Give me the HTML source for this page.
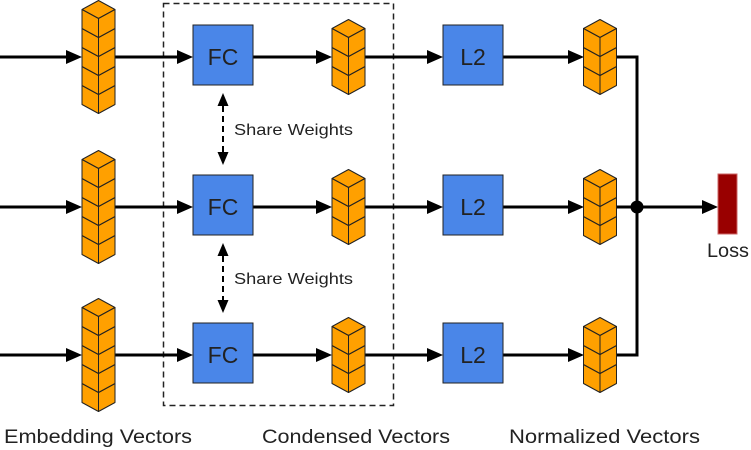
<!DOCTYPE html>
<html><head><meta charset="utf-8"><style>
html,body{margin:0;padding:0;background:#fff;width:751px;height:450px;overflow:hidden}
text{font-family:"Liberation Sans","DejaVu Sans",sans-serif;fill:#222}
</style></head><body>
<svg width="751" height="450" viewBox="0 0 751 450" xmlns="http://www.w3.org/2000/svg">
<defs>
<g id="cube" stroke="#222" stroke-width="1" stroke-linejoin="round" fill="#ffa000">
<polygon points="0,0 16.5,9 0,18 -16.5,9"/>
<polygon points="-16.5,9 0,18 0,37 -16.5,28"/>
<polygon points="16.5,9 0,18 0,37 16.5,28"/>
</g>
<g id="s5"><use href="#cube" y="76"/><use href="#cube" y="57"/><use href="#cube" y="38"/><use href="#cube" y="19"/><use href="#cube" y="0"/></g>
<g id="s3"><use href="#cube" y="38"/><use href="#cube" y="19"/><use href="#cube" y="0"/></g>
<polygon id="ah" points="0,0 -16,-7 -16,7" fill="#000"/>
<g id="row">
<line x1="0" y1="0" x2="70" y2="0" stroke="#000" stroke-width="3"/>
<use href="#ah" x="82"/>
<line x1="115" y1="0" x2="180" y2="0" stroke="#000" stroke-width="3"/>
<use href="#ah" x="193"/>
<line x1="253" y1="0" x2="320" y2="0" stroke="#000" stroke-width="3"/>
<use href="#ah" x="332"/>
<line x1="365" y1="0" x2="430" y2="0" stroke="#000" stroke-width="3"/>
<use href="#ah" x="443"/>
<line x1="503" y1="0" x2="572" y2="0" stroke="#000" stroke-width="3"/>
<use href="#ah" x="584"/>
<line x1="616" y1="0" x2="638.5" y2="0" stroke="#000" stroke-width="3"/>
<rect x="193" y="-32" width="60" height="60" fill="#4a86e8" stroke="#222" stroke-width="1"/>
<rect x="443" y="-32" width="60" height="60" fill="#4a86e8" stroke="#222" stroke-width="1"/>
</g>
</defs>

<rect x="163.5" y="3.5" width="230" height="402" fill="none" stroke="#222" stroke-width="1.5" stroke-dasharray="6,4"/>

<use href="#row" y="57"/>
<use href="#row" y="207"/>
<use href="#row" y="355"/>

<use href="#s5" x="98.5" y="0.5"/>
<use href="#s5" x="98.5" y="150.5"/>
<use href="#s5" x="98.5" y="298.5"/>
<use href="#s3" x="348.5" y="19.5"/>
<use href="#s3" x="348.5" y="169.5"/>
<use href="#s3" x="348.5" y="317.5"/>
<use href="#s3" x="600" y="19.5"/>
<use href="#s3" x="600" y="169.5"/>
<use href="#s3" x="600" y="317.5"/>

<g font-size="23" text-anchor="middle">
<text x="223" y="65">FC</text><text x="223" y="215">FC</text><text x="223" y="363">FC</text>
<text x="473" y="65">L2</text><text x="473" y="215">L2</text><text x="473" y="363">L2</text>
</g>

<line x1="637" y1="57" x2="637" y2="355" stroke="#000" stroke-width="3"/>
<circle cx="637" cy="207" r="6.5" fill="#000"/>
<line x1="637" y1="207" x2="705" y2="207" stroke="#000" stroke-width="3"/>
<use href="#ah" x="718" y="207"/>
<rect x="718" y="174" width="19" height="60" fill="#990000" stroke="#c66" stroke-width="1"/>
<text x="728" y="257" font-size="19" text-anchor="middle" textLength="42" lengthAdjust="spacingAndGlyphs">Loss</text>

<g stroke="#000" stroke-width="2" stroke-dasharray="6,4">
<line x1="223" y1="106" x2="223" y2="152"/>
<line x1="223" y1="256" x2="223" y2="300"/>
</g>
<g fill="#000">
<polygon points="223,93 217.5,106 228.5,106"/><polygon points="223,165 217.5,152 228.5,152"/>
<polygon points="223,243 217.5,256 228.5,256"/><polygon points="223,313 217.5,300 228.5,300"/>
</g>
<text x="234" y="135" font-size="16" textLength="119" lengthAdjust="spacingAndGlyphs">Share Weights</text>
<text x="234" y="284" font-size="16" textLength="119" lengthAdjust="spacingAndGlyphs">Share Weights</text>

<g font-size="19">
<text x="4" y="443" textLength="188" lengthAdjust="spacingAndGlyphs">Embedding Vectors</text>
<text x="262" y="443" textLength="188" lengthAdjust="spacingAndGlyphs">Condensed Vectors</text>
<text x="509" y="443" textLength="191" lengthAdjust="spacingAndGlyphs">Normalized Vectors</text>
</g>
</svg>
</body></html>
